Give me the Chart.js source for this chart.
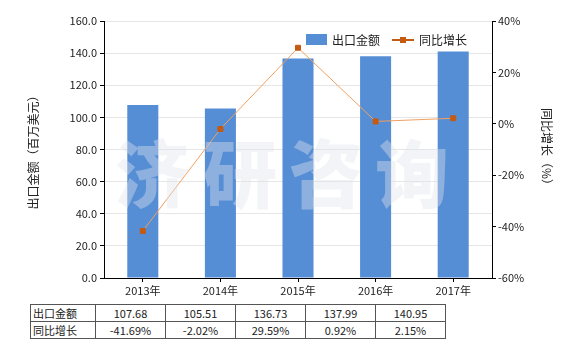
<!DOCTYPE html>
<html>
<head>
<meta charset="utf-8">
<script src="https://cdn.jsdelivr.net/npm/chart.js@4.4.0/dist/chart.umd.min.js"></script>
<style>
  body { margin: 0; background: #fff; font-family: "Noto Sans CJK SC", "DejaVu Sans", sans-serif; }
  #wrap { position: relative; width: 580px; height: 350px; }
  #box { position: absolute; left: 0; top: 0; width: 580px; height: 300px; }
  table { position: absolute; left: 30px; top: 304px; border-collapse: collapse; font-size: 11px; color: #222; }
  td { border: 1px solid #555; height: 16px; padding: 0; text-align: center; width: 69px; }
  td.head { width: 62px; text-align: left; padding-left: 2px; vertical-align: top; }
</style>
</head>
<body>
<div id="wrap">
  <div id="box"><canvas id="chart"></canvas></div>
  <table id="tbl"></table>
</div>
<script>
const years = ["2013年", "2014年", "2015年", "2016年", "2017年"];
const exportValue = [107.68, 105.51, 136.73, 137.99, 140.95];
const growth = [-41.69, -2.02, 29.59, 0.92, 2.15];

const barColor = "#558ed5";
const lineColor = "#c55a11";
const tickFont = { size: 11, family: "Noto Sans CJK SC" };

// table under the chart
let rows = "<tr><td class='head'>出口金额</td>";
exportValue.forEach((v) => (rows += `<td>${v.toFixed(2)}</td>`));
rows += "</tr><tr><td class='head'>同比增长</td>";
growth.forEach((v) => (rows += `<td>${v.toFixed(2)}%</td>`));
rows += "</tr>";
document.getElementById("tbl").innerHTML = rows;

// watermark + legend
const extras = {
  id: "extras",
  afterDatasetsDraw(chart) {
    const { ctx } = chart;
    ctx.save();
    ctx.font = "900 74px 'Noto Sans CJK SC'";
    ctx.fillStyle = "rgba(225,228,235,0.4)";
    ctx.textAlign = "center";
    ctx.textBaseline = "middle";
    const chars = ["济", "研", "咨", "询"];
    const xs = [152, 240, 326, 412];
    chars.forEach((c, i) => ctx.fillText(c, xs[i], 174));
    ctx.restore();
  },
  afterDraw(chart) {
    const { ctx } = chart;
    ctx.save();
    ctx.font = "12px 'Noto Sans CJK SC'";
    ctx.textBaseline = "middle";
    ctx.fillStyle = barColor;
    ctx.fillRect(306, 34, 21, 11);
    ctx.fillStyle = "#222";
    ctx.fillText("出口金额", 332, 40);
    ctx.strokeStyle = lineColor;
    ctx.lineWidth = 2;
    ctx.beginPath();
    ctx.moveTo(392, 40);
    ctx.lineTo(414, 40);
    ctx.stroke();
    ctx.fillStyle = lineColor;
    ctx.fillRect(400, 37, 6, 6);
    ctx.fillStyle = "#222";
    ctx.fillText("同比增长", 419, 40);
    ctx.restore();
  },
};

new Chart(document.getElementById("chart"), {
  data: {
    labels: years,
    datasets: [
      {
        type: "line",
        label: "同比增长",
        data: growth,
        yAxisID: "y1",
        borderColor: "#f0a060",
        borderWidth: 1,
        pointStyle: "rect",
        pointRadius: 3.5,
        pointBackgroundColor: lineColor,
        pointBorderColor: lineColor,
        order: 0,
      },
      {
        type: "bar",
        label: "出口金额",
        data: exportValue,
        yAxisID: "y",
        backgroundColor: barColor,
        categoryPercentage: 1,
        barPercentage: 0.4,
        order: 1,
      },
    ],
  },
  plugins: [extras],
  options: {
    responsive: true,
    maintainAspectRatio: false,
    animation: false,
    layout: { padding: { top: 21, left: 0, right: 0, bottom: 0 } },
    plugins: { legend: { display: false }, tooltip: { enabled: false } },
    scales: {
      x: {
        grid: { display: true, drawOnChartArea: false, color: "#000", tickLength: 4, offset: false },
        border: { color: "#000" },
        ticks: { font: tickFont, color: "#222", padding: 2 },
        afterFit: (s) => { s.width = s.width; s.height = 22; },
      },
      y: {
        position: "left",
        min: 0,
        max: 160,
        ticks: { stepSize: 20, font: tickFont, color: "#222", padding: 3, callback: (v) => v.toFixed(1) },
        grid: { color: "#e6e6e6", tickColor: "#000", tickLength: 4 },
        border: { color: "#000" },
        title: { display: true, text: "出口金额（百万美元）", font: { size: 12, family: "Noto Sans CJK SC" }, color: "#222", padding: { top: 26, bottom: 0 } },
        afterFit: (s) => { s.width = 104; },
      },
      y1: {
        position: "right",
        min: -60,
        max: 40,
        ticks: { stepSize: 20, font: tickFont, color: "#222", padding: 2, callback: (v) => v + "%" },
        grid: { drawOnChartArea: false, color: "#000", tickLength: 4 },
        border: { color: "#000" },
        title: { display: true, text: "同比增长（%）", font: { size: 12, family: "Noto Sans CJK SC" }, color: "#222", padding: { top: 26, bottom: 0 } },
        afterFit: (s) => { s.width = 88; },
      },
    },
  },
});
</script>
</body>
</html>
